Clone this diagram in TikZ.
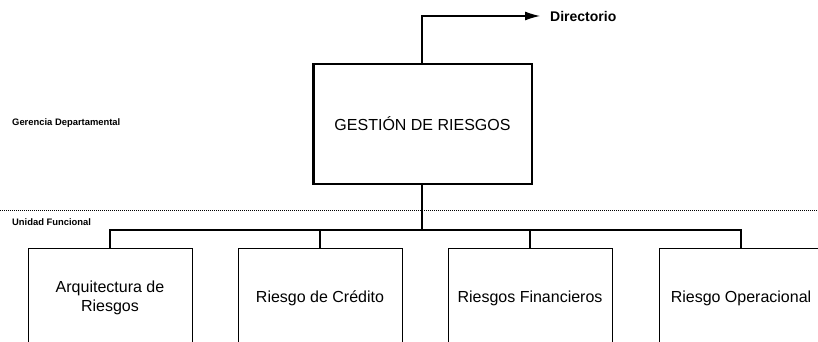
\documentclass[tikz,border=0pt]{standalone}
\usepackage{fontspec}
\setmainfont{Liberation Sans}
\usetikzlibrary{arrows.meta}

\begin{document}
\begin{tikzpicture}[x=1pt, y=-1pt,
    unidad/.style={draw, semithick, minimum width=164pt, minimum height=100pt, anchor=north, align=center, inner sep=0pt, font=\fontsize{16}{19}\selectfont},
    nivel/.style={anchor=west, inner sep=0pt, font=\bfseries\fontsize{9.4}{10}\selectfont}]
\useasboundingbox (0, 0) rectangle (818, 342);
\clip (0, 0) rectangle (818, 342);
    \node[draw, line width=2.5pt, minimum width=218.5pt, minimum height=119.5pt, font=\fontsize{16}{19}\selectfont] (gestion) at (422.5, 124) {GESTIÓN DE RIESGOS};
    \node[anchor=west, inner xsep=10pt, inner ysep=0pt, font=\bfseries\fontsize{14}{16}\selectfont] (directorio) at (540, 16) {Directorio};
    \draw[line width=1.2pt, -{Latex[length=15pt, width=9pt]}] ([xshift=-0.5pt]gestion.north) |- (directorio.west);
    \node[nivel] (gerencia) at (12, 123) {Gerencia Departamental};
    \node[nivel] (funcional) at (12, 222) {Unidad Funcional};
    \draw[dash pattern=on 1pt off 1pt] (0, 210) -- (818, 210);
    \node[unidad] (arquitectura) at (110, 248) {Arquitectura de\\Riesgos};
    \node[unidad] (credito) at (320, 248) {Riesgo de Crédito};
    \node[unidad] (financieros) at (530, 248) {Riesgos Financieros};
    \node[unidad] (operacional) at (741, 248) {Riesgo Operacional};
    \coordinate (bus) at (422, 230);
    \draw[line width=1.2pt] ([xshift=-0.5pt]gestion.south) -- (bus);
    \foreach \u in {arquitectura, credito, financieros, operacional}
        \draw[line width=1.2pt] (\u.north) |- (bus);
\end{tikzpicture}
\end{document}
